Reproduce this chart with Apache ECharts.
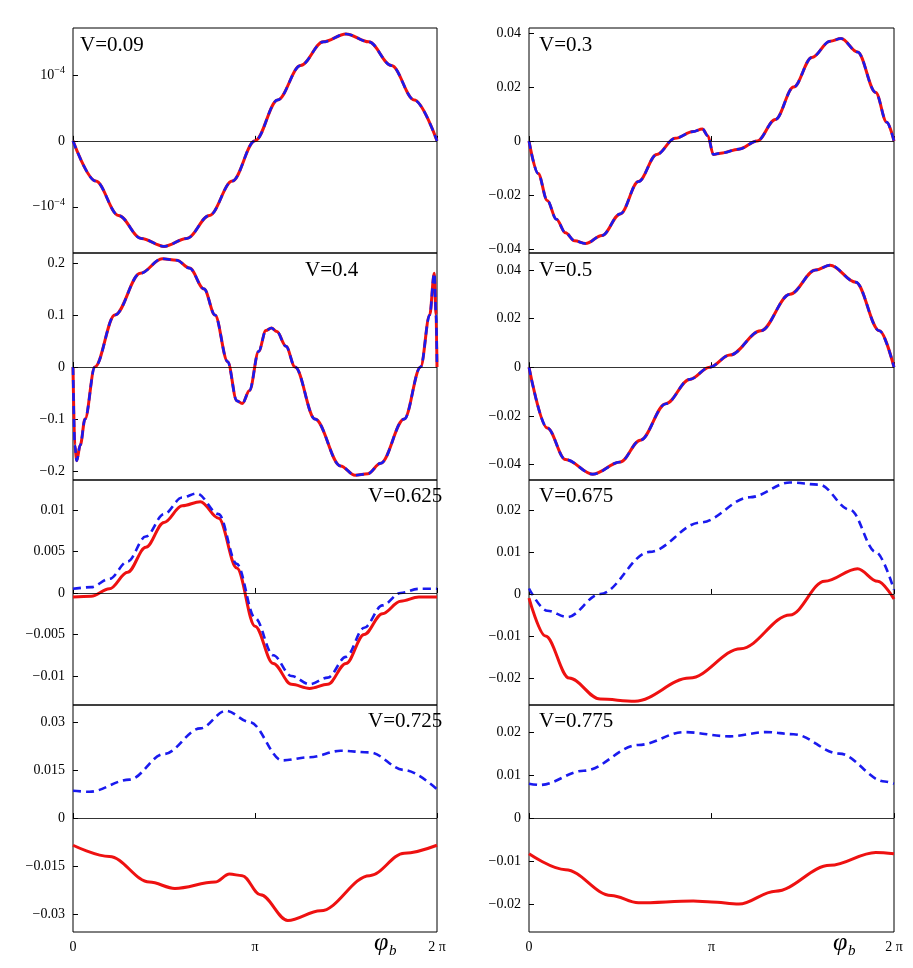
<!DOCTYPE html>
<html><head><meta charset="utf-8">
<script src="https://cdn.jsdelivr.net/npm/echarts@6/dist/echarts.min.js"></script>
<style>html,body{margin:0;padding:0;background:#fff}#c{width:913px;height:968px}</style>
</head><body><div id="c"></div>
<script>
// x in units of pi
const xTicks = [0, 1, 2];
const xTickLabels = ['0', 'π', '2 π'];
const panelLabels = ['V=0.09','V=0.3','V=0.4','V=0.5','V=0.625','V=0.675','V=0.725','V=0.775'];
const yRanges = [[-1.70e-4,1.71e-4],[-0.0415,0.0419],[-0.217,0.219],[-0.0464,0.047],[-0.0135,0.01361],[-0.0264,0.0271],[-0.0356,0.0353],[-0.0265,0.0263]];
const yTicks = [[-1e-4,0,1e-4],[-0.04,-0.02,0,0.02,0.04],[-0.2,-0.1,0,0.1,0.2],[-0.04,-0.02,0,0.02,0.04],[-0.01,-0.005,0,0.005,0.01],[-0.02,-0.01,0,0.01,0.02],[-0.03,-0.015,0,0.015,0.03],[-0.02,-0.01,0,0.01,0.02]];
const yTickLabels = [['−{s|10}{p|−4}','0','{s|10}{p|−4}'],['−0.04','−0.02','0','0.02','0.04'],['−0.2','−0.1','0','0.1','0.2'],['−0.04','−0.02','0','0.02','0.04'],['−0.01','−0.005','0','0.005','0.01'],['−0.02','−0.01','0','0.01','0.02'],['−0.03','−0.015','0','0.015','0.03'],['−0.02','−0.01','0','0.01','0.02']];

const red1 = [[0,0],[0.125,-0.61e-4],[0.25,-1.13e-4],[0.375,-1.48e-4],[0.5,-1.6e-4],[0.625,-1.48e-4],[0.75,-1.13e-4],[0.875,-0.61e-4],[1,0],[1.125,0.62e-4],[1.25,1.14e-4],[1.375,1.5e-4],[1.5,1.62e-4],[1.625,1.5e-4],[1.75,1.14e-4],[1.875,0.62e-4],[2,0]];
const red2 = [[0,0],[0.05,-0.012],[0.1,-0.022],[0.15,-0.029],[0.2,-0.034],[0.25,-0.037],[0.31,-0.038],[0.4,-0.035],[0.5,-0.027],[0.6,-0.015],[0.7,-0.005],[0.8,0.001],[0.9,0.0035],[0.95,0.0045],[0.98,0.002],[1.01,-0.005],[1.05,-0.0045],[1.15,-0.003],[1.25,0.0],[1.35,0.008],[1.45,0.02],[1.55,0.031],[1.65,0.037],[1.71,0.038],[1.8,0.033],[1.9,0.018],[1.96,0.007],[2,0]];
const red3 = [[0,0],[0.01,-0.15],[0.02,-0.18],[0.04,-0.15],[0.066,-0.1],[0.12,0],[0.23,0.1],[0.37,0.18],[0.49,0.208],[0.57,0.205],[0.64,0.19],[0.72,0.15],[0.78,0.1],[0.85,0.01],[0.9,-0.065],[0.93,-0.07],[0.97,-0.045],[1.02,0.03],[1.06,0.07],[1.09,0.075],[1.12,0.068],[1.17,0.04],[1.22,0],[1.33,-0.1],[1.47,-0.19],[1.55,-0.208],[1.62,-0.205],[1.69,-0.185],[1.82,-0.1],[1.91,0],[1.96,0.1],[1.985,0.18],[1.995,0.1],[2,0]];
const red4 = [[0,0],[0.1,-0.025],[0.2,-0.038],[0.35,-0.044],[0.5,-0.039],[0.61,-0.03],[0.75,-0.015],[0.88,-0.005],[0.99,0],[1.1,0.005],[1.27,0.015],[1.43,0.03],[1.57,0.04],[1.65,0.042],[1.79,0.035],[1.92,0.015],[2,0]];
const red5 = [[0,-0.0005],[0.1,-0.0004],[0.2,0.0005],[0.3,0.0025],[0.4,0.0055],[0.5,0.0085],[0.6,0.0105],[0.7,0.011],[0.8,0.009],[0.9,0.003],[1.0,-0.004],[1.1,-0.0085],[1.2,-0.011],[1.3,-0.0115],[1.4,-0.011],[1.5,-0.0085],[1.6,-0.005],[1.7,-0.0025],[1.8,-0.001],[1.9,-0.0005],[2,-0.0005]];
const blue5 = [[0,0.0005],[0.1,0.0007],[0.2,0.0017],[0.3,0.0038],[0.4,0.0068],[0.5,0.0095],[0.6,0.0115],[0.68,0.012],[0.8,0.0095],[0.9,0.0035],[1.0,-0.003],[1.1,-0.0075],[1.2,-0.010],[1.3,-0.011],[1.4,-0.0102],[1.5,-0.0077],[1.6,-0.0042],[1.7,-0.0015],[1.8,0],[1.9,0.0005],[2,0.0005]];
const red6 = [[0,-0.001],[0.09,-0.01],[0.22,-0.02],[0.39,-0.025],[0.58,-0.0255],[0.88,-0.02],[1.16,-0.013],[1.43,-0.005],[1.62,0.003],[1.8,0.006],[1.91,0.003],[2,-0.0012]];
const blue6 = [[0,0.0013],[0.1,-0.004],[0.21,-0.0055],[0.39,0],[0.66,0.01],[0.94,0.017],[1.21,0.023],[1.43,0.0265],[1.59,0.026],[1.76,0.02],[1.9,0.01],[2,0.001]];
const red7 = [[0,-0.0085],[0.2,-0.012],[0.42,-0.02],[0.56,-0.022],[0.78,-0.02],[0.86,-0.0175],[0.93,-0.018],[1.03,-0.024],[1.18,-0.032],[1.36,-0.029],[1.63,-0.018],[1.82,-0.011],[2,-0.0085]];
const blue7 = [[0,0.0085],[0.09,0.0082],[0.31,0.012],[0.5,0.02],[0.7,0.028],[0.84,0.0335],[0.97,0.03],[1.15,0.018],[1.3,0.019],[1.47,0.021],[1.63,0.0205],[1.82,0.015],[2,0.009]];
const red8 = [[0,-0.0083],[0.2,-0.012],[0.45,-0.018],[0.6,-0.0197],[0.9,-0.0193],[1.0,-0.0195],[1.15,-0.02],[1.35,-0.017],[1.65,-0.011],[1.9,-0.008],[2,-0.0083]];
const blue8 = [[0,0.008],[0.06,0.0077],[0.3,0.011],[0.6,0.017],[0.85,0.02],[1.1,0.019],[1.3,0.02],[1.45,0.0195],[1.7,0.015],[1.95,0.0085],[2,0.008]];

const reds = [red1,red2,red3,red4,red5,red6,red7,red8];
const blues = [red1,red2,red3,red4,blue5,blue6,blue7,blue8];
const labelPos = [[80,35],[539,35],[305,260],[539,260],[368,486],[539,486],[368,711],[539,711]];

const font = 'Liberation Serif';
const lefts=[73,529], widths=[364,365], tops=[28,253,480,705], heights=[225,227,225,227];
const grid=[],xAxis=[],yAxis=[],series=[],graphic=[];
for(let i=0;i<8;i++){
  const r=Math.floor(i/2), c=i%2;
  grid.push({left:lefts[c],top:tops[r],width:widths[c],height:heights[r],show:true,borderColor:'#000',borderWidth:1,containLabel:false});
  xAxis.push({type:'value',gridIndex:i,min:0,max:2,axisLine:{show:false},splitLine:{show:false},
    axisTick:{inside:true,length:5,customValues:xTicks,lineStyle:{color:'#000'}},
    axisLabel:{show:r===3,customValues:xTicks,formatter:v=>xTickLabels[xTicks.indexOf(v)]||'',fontFamily:font,fontSize:14,color:'#000',margin:8}});
  yAxis.push({type:'value',gridIndex:i,min:yRanges[i][0],max:yRanges[i][1],axisLine:{show:false},splitLine:{show:false},
    axisTick:{inside:true,length:5,customValues:yTicks[i],lineStyle:{color:'#000'}},
    axisLabel:{customValues:yTicks[i],formatter:v=>{let k=yTicks[i].findIndex(t=>Math.abs(t-v)<1e-12);return k>=0?yTickLabels[i][k]:'';},fontFamily:font,fontSize:14,color:'#000',margin:8,
      rich:{s:{fontFamily:font,fontSize:14,color:'#000'},p:{fontFamily:font,fontSize:10,color:'#000',verticalAlign:'top',padding:[0,0,8,0]}}}});
  series.push({type:'line',xAxisIndex:i,yAxisIndex:i,data:reds[i],smooth:0.35,smoothMonotone:'x',showSymbol:false,lineStyle:{color:'#ee1111',width:3},
    markLine:{silent:true,symbol:'none',label:{show:false},lineStyle:{color:'#000',width:0.8,type:'solid'},data:[{yAxis:0}]}});
  series.push({type:'line',xAxisIndex:i,yAxisIndex:i,data:blues[i],smooth:0.35,smoothMonotone:'x',showSymbol:false,lineStyle:{color:'#1a1aee',width:2.6,type:[8,5]}});
  graphic.push({type:'text',left:labelPos[i][0],top:labelPos[i][1],style:{text:panelLabels[i],font:'21px "Liberation Serif"',fill:'#000'}});
}
graphic.push({type:'text',left:374,top:930,style:{text:'φ',font:'italic 26px "Liberation Serif"',fill:'#000'}});
graphic.push({type:'text',left:389,top:944,style:{text:'b',font:'italic 15px "Liberation Serif"',fill:'#000'}});
graphic.push({type:'text',left:833,top:930,style:{text:'φ',font:'italic 26px "Liberation Serif"',fill:'#000'}});
graphic.push({type:'text',left:848,top:944,style:{text:'b',font:'italic 15px "Liberation Serif"',fill:'#000'}});
const chart=echarts.init(document.getElementById('c'));
chart.setOption({animation:false,backgroundColor:'#fff',grid,xAxis,yAxis,series,graphic});
</script></body></html>
